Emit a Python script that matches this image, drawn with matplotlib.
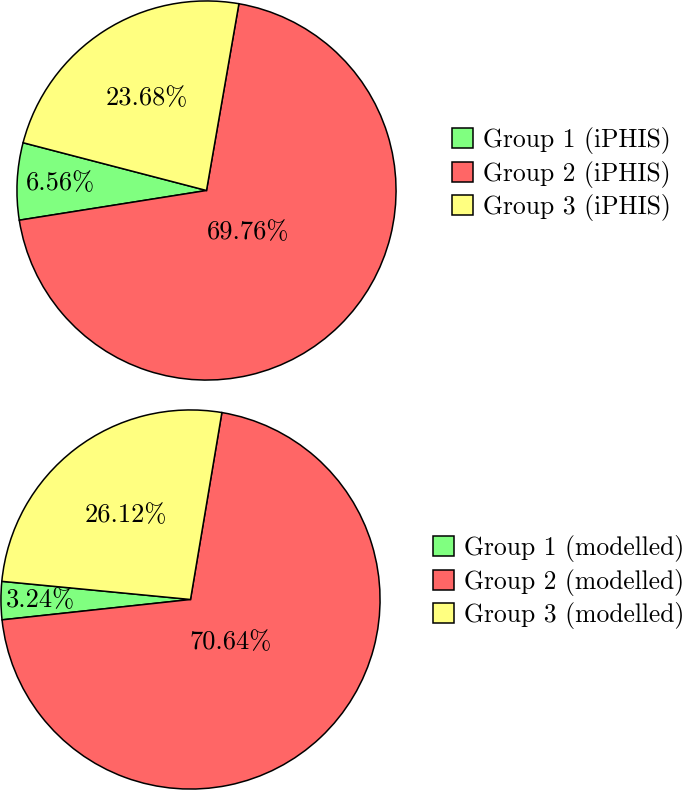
import numpy as np
import matplotlib.pyplot as plt

plt.rcParams['font.family'] = ['cmr10', 'DejaVu Serif']
plt.rcParams['axes.unicode_minus'] = False

groups = ['Group 1', 'Group 2', 'Group 3']
iphis = [6.56, 69.76, 23.68]
modelled = [3.24, 70.64, 26.12]
colors = ['#80ff80', '#ff6666', '#ffff80']

# radial positions of the percentage labels, per slice
iphis_label_r = [0.77, 0.31, 0.58]
modelled_label_r = [0.79, 0.31, 0.56]

W, H = 686, 790
fig = plt.figure(figsize=(W / 100, H / 100), dpi=100)


def px_axes(x0, y0, w, h):
    return fig.add_axes([x0 / W, 1 - (y0 + h) / H, w / W, h / H])


def draw_pie(ax, values, start, label_r, suffix, legend_xy):
    wedges, _ = ax.pie(values, colors=colors, startangle=start, counterclock=True,
                       radius=1.0,
                       wedgeprops=dict(edgecolor='black', linewidth=1.1))
    for w, v, r in zip(wedges, values, label_r):
        mid = np.deg2rad((w.theta1 + w.theta2) / 2)
        ax.text(r * np.cos(mid), r * np.sin(mid), f'{v:.2f}%', ha='center',
                va='center', fontsize=19)
    ax.set_xlim(-1.005, 1.005)
    ax.set_ylim(-1.005, 1.005)
    ax.set_aspect('equal')
    fig.legend(wedges, [f'{g} ({suffix})' for g in groups], frameon=False,
               loc='center left',
               bbox_to_anchor=(legend_xy[0] / W, 1 - legend_xy[1] / H),
               fontsize=18.4, handlelength=0.82, handleheight=0.82,
               handletextpad=0.4, labelspacing=0.25, borderpad=0,
               borderaxespad=0)


ax1 = px_axes(16, 0, 381, 381)
draw_pie(ax1, iphis, 165.4, iphis_label_r, 'iPHIS', (452, 174))

ax2 = px_axes(0, 409, 381, 381)
draw_pie(ax2, modelled, 174.5, modelled_label_r, 'modelled', (433, 582))

fig.savefig('out.png', dpi=100)
